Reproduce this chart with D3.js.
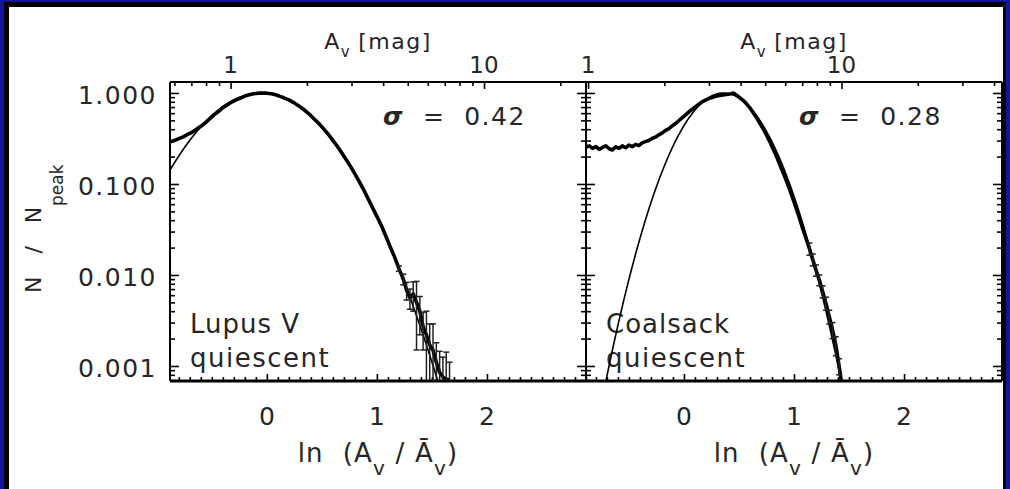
<!DOCTYPE html>
<html>
<head>
<meta charset="utf-8">
<script src="https://cdn.jsdelivr.net/npm/d3@7"></script>
<style>
  html, body { margin: 0; padding: 0; background: #fff; }
  svg { display: block; }
  text { font-family: "DejaVu Sans", sans-serif; fill: #262626; }
</style>
</head>
<body>
<svg id="chart" width="1010" height="489"></svg>
<script>
// ---- data ----
const cloudNames = ["Lupus V", "Coalsack"];
const cloudStates = ["quiescent", "quiescent"];
const fitSigma = [0.42, 0.28];          // width of the lognormal fit (stated in each panel)
const fitCenter = [-0.05, 0.36];        // peak position of the fit, ln(Av/<Av>)
const meanAv = [1.39, 2.39];            // <Av> in mag, ties the top axis to the bottom one

const lupusX = [-0.88,-0.84,-0.80,-0.76,-0.72,-0.68,-0.64,-0.60,-0.56,-0.52,-0.48,-0.44,-0.40,-0.36,-0.32,-0.28,-0.24,-0.20,-0.16,-0.12,-0.08,-0.04,0.00,0.04,0.08,0.12,0.16,0.20,0.24,0.28,0.32,0.36,0.40,0.44,0.48,0.52,0.56,0.60,0.64,0.68,0.72,0.76,0.80,0.84,0.88,0.92,0.96,1.00,1.04,1.08,1.12,1.16,1.20,1.24,1.27,1.30,1.33,1.36,1.39,1.42,1.45,1.48,1.51,1.54,1.57,1.60,1.63,1.66];
const lupusY = [0.290,0.300,0.315,0.330,0.350,0.370,0.400,0.430,0.470,0.520,0.575,0.625,0.690,0.740,0.795,0.840,0.880,0.925,0.955,0.980,0.995,1.000,0.995,0.982,0.955,0.918,0.880,0.838,0.790,0.735,0.680,0.622,0.563,0.505,0.452,0.398,0.350,0.302,0.260,0.220,0.186,0.156,0.129,0.106,0.086,0.069,0.055,0.044,0.035,0.027,0.0205,0.0158,0.0118,0.0090,0.0068,0.0056,0.0062,0.0050,0.0040,0.0027,0.0022,0.0017,0.0015,0.0011,0.00085,0.00075,0.00072,0.00070];
const lupusErr = [0,0,0,0,0,0,0,0,0,0,0,0,0,0,0,0,0,0,0,0,0,0,0,0,0,0,0,0,0,0,0,0,0,0,0,0,0,0,0,0,0,0,0,0,0,0,0,0,0,0,0,0,0.0008,0.0012,0.0015,0.0014,0.0022,0.0035,0.0018,0.0012,0.0018,0.0012,0.0014,0.0007,0.0006,0.0005,0.0007,0.0004];

const coalsackX = [-0.89,-0.86,-0.83,-0.80,-0.77,-0.74,-0.71,-0.68,-0.65,-0.62,-0.59,-0.56,-0.53,-0.50,-0.47,-0.44,-0.41,-0.38,-0.35,-0.32,-0.29,-0.26,-0.23,-0.20,-0.17,-0.14,-0.11,-0.08,-0.05,-0.02,0.01,0.04,0.07,0.10,0.13,0.16,0.19,0.22,0.25,0.28,0.31,0.34,0.37,0.40,0.43,0.45,0.48,0.51,0.54,0.57,0.60,0.63,0.66,0.69,0.72,0.75,0.78,0.81,0.84,0.87,0.90,0.93,0.96,0.99,1.02,1.05,1.08,1.11,1.14,1.17,1.20,1.23,1.26,1.29,1.32,1.35,1.38,1.41,1.43];
const coalsackY = [0.255,0.262,0.246,0.258,0.240,0.252,0.263,0.244,0.236,0.256,0.247,0.262,0.250,0.268,0.257,0.272,0.264,0.283,0.292,0.300,0.316,0.327,0.345,0.362,0.386,0.402,0.432,0.458,0.492,0.528,0.568,0.612,0.656,0.700,0.745,0.790,0.828,0.860,0.888,0.912,0.930,0.944,0.958,0.968,0.982,1.000,0.940,0.880,0.825,0.755,0.685,0.605,0.535,0.465,0.405,0.345,0.292,0.243,0.203,0.164,0.134,0.109,0.087,0.069,0.054,0.042,0.032,0.025,0.0195,0.0148,0.0113,0.0088,0.0066,0.0049,0.0035,0.0025,0.0017,0.0010,0.00068];
const coalsackErr = [0,0,0,0,0,0,0,0,0,0,0,0,0,0,0,0,0,0,0,0,0,0,0,0,0,0,0,0,0,0,0,0,0,0,0,0,0,0,0,0,0,0,0,0,0,0,0,0,0,0,0,0,0,0,0,0,0,0,0,0,0,0,0,0,0,0,0,0,0.0030,0.0022,0.0016,0.0012,0.0010,0.0008,0.0006,0.0005,0.0004,0.0002,0];

const yMajor = [1, 0.1, 0.01, 0.001];
const yTickLabels = ["1.000", "0.100", "0.010", "0.001"];
const xMajor = [0, 1, 2];
const topMajor = [1, 10];

// ---- layout ----
const W = 1010, H = 489;
const boxTop = 82, boxBottom = 381;
const panels = [
  { left: 170, right: 586, domain: [-0.88, 2.90], x: lupusX, y: lupusY, err: lupusErr },
  { left: 586, right: 1002, domain: [-0.89, 2.89], x: coalsackX, y: coalsackY, err: coalsackErr }
];
const yDomain = [0.000684, 1.32];

const svg = d3.select("#chart");

// frame
svg.append("rect").attr("width", W).attr("height", H).attr("fill", "#16169c");
svg.append("rect").attr("x", 4).attr("y", 2).attr("width", 1002).attr("height", H).attr("fill", "#000");
svg.append("rect").attr("x", 9).attr("y", 7).attr("width", 994).attr("height", H).attr("fill", "#fff");

const y = d3.scaleLog().domain(yDomain).range([boxBottom, boxTop]);

// minor tick helpers for log axes
function logMinors(lo, hi) {
  const out = [];
  for (let e = Math.floor(Math.log10(lo)); e <= Math.ceil(Math.log10(hi)); e++) {
    for (let m = 2; m <= 9; m++) {
      const v = m * Math.pow(10, e);
      if (v >= lo && v <= hi) out.push(v);
    }
  }
  return out;
}
const yMinor = logMinors(yDomain[0], yDomain[1]);

function tickAxis(g, axis) {
  g.call(axis);
  g.select(".domain").remove();
  g.selectAll("line").attr("stroke", "#000").attr("stroke-width", 1.6);
}

panels.forEach((p, i) => {
  const x = d3.scaleLinear().domain(p.domain).range([p.left, p.right]);
  const top = d3.scaleLog()
    .domain([meanAv[i] * Math.exp(p.domain[0]), meanAv[i] * Math.exp(p.domain[1])])
    .range([p.left, p.right]);
  const g = svg.append("g");

  const clipId = "clip" + i;
  svg.append("clipPath").attr("id", clipId).append("rect")
    .attr("x", p.left).attr("y", boxTop).attr("width", p.right - p.left).attr("height", boxBottom - boxTop);

  // ticks (all pointing into the box)
  tickAxis(g.append("g").attr("transform", `translate(${p.left},0)`),
    d3.axisLeft(y).tickValues(yMajor).tickSize(-9).tickFormat(""));
  tickAxis(g.append("g").attr("transform", `translate(${p.left},0)`),
    d3.axisLeft(y).tickValues(yMinor).tickSize(-5).tickFormat(""));
  tickAxis(g.append("g").attr("transform", `translate(${p.right},0)`),
    d3.axisRight(y).tickValues(yMajor).tickSize(-9).tickFormat(""));
  tickAxis(g.append("g").attr("transform", `translate(${p.right},0)`),
    d3.axisRight(y).tickValues(yMinor).tickSize(-5).tickFormat(""));

  const xMinor = d3.range(Math.ceil(p.domain[0] * 10), Math.floor(p.domain[1] * 10) + 1)
    .map(k => k / 10).filter(v => Math.abs(v - Math.round(v)) > 1e-6);
  tickAxis(g.append("g").attr("transform", `translate(0,${boxBottom})`),
    d3.axisBottom(x).tickValues(xMajor).tickSize(-7).tickFormat(""));
  tickAxis(g.append("g").attr("transform", `translate(0,${boxBottom})`),
    d3.axisBottom(x).tickValues(xMinor).tickSize(-4).tickFormat(""));

  const topMinor = logMinors(top.domain()[0], top.domain()[1]);
  tickAxis(g.append("g").attr("transform", `translate(0,${boxTop})`),
    d3.axisTop(top).tickValues(topMajor).tickSize(-7).tickFormat(""));
  tickAxis(g.append("g").attr("transform", `translate(0,${boxTop})`),
    d3.axisTop(top).tickValues(topMinor).tickSize(-4).tickFormat(""));

  // box
  g.append("line").attr("x1", p.left).attr("x2", p.right).attr("y1", boxTop).attr("y2", boxTop)
    .attr("stroke", "#000").attr("stroke-width", 2);
  g.append("line").attr("x1", p.left).attr("x2", p.right).attr("y1", boxBottom).attr("y2", boxBottom)
    .attr("stroke", "#000").attr("stroke-width", 3);
  g.append("line").attr("x1", p.left).attr("x2", p.left).attr("y1", boxTop).attr("y2", boxBottom)
    .attr("stroke", "#000").attr("stroke-width", 2);
  g.append("line").attr("x1", p.right).attr("x2", p.right).attr("y1", boxTop).attr("y2", boxBottom)
    .attr("stroke", "#000").attr("stroke-width", 2);

  // tick labels
  g.selectAll("text.xt").data(xMajor).join("text")
    .attr("x", d => x(d)).attr("y", 425).attr("text-anchor", "middle")
    .attr("font-size", 25).text(d => d);
  g.selectAll("text.tt").data(topMajor).join("text")
    .attr("x", d => top(d)).attr("y", 73).attr("text-anchor", "middle")
    .attr("font-size", 23).text(d => d);

  // top axis title
  const cx = (p.left + p.right) / 2;
  const tt = g.append("text").attr("x", cx).attr("y", 49).attr("text-anchor", "middle")
    .attr("font-size", 22).attr("letter-spacing", 1.5);
  tt.append("tspan").text("A");
  tt.append("tspan").attr("font-size", 15).attr("dy", 8).text("v");
  tt.append("tspan").attr("dy", -8).attr("dx", 7).text("[mag]");

  // bottom axis title
  const bt = g.append("text").attr("x", cx).attr("y", 462).attr("text-anchor", "middle")
    .attr("font-size", 26).attr("letter-spacing", 1.2).attr("xml:space", "preserve");
  bt.append("tspan").text("ln  (A");
  bt.append("tspan").attr("font-size", 20).attr("dy", 13).text("v");
  bt.append("tspan").attr("dy", -13).text(" / Ā");
  bt.append("tspan").attr("font-size", 20).attr("dy", 13).text("v");
  bt.append("tspan").attr("dy", -13).text(")");

  // lognormal fit
  const fitXs = d3.range(p.domain[0], p.domain[1] + 0.005, 0.005);
  const s2 = 2 * fitSigma[i] * fitSigma[i];
  const fitLine = d3.line()
    .x(d => x(d))
    .y(d => y(Math.max(1e-6, Math.exp(-Math.pow(d - fitCenter[i], 2) / s2))));
  const data = svg.append("g").attr("clip-path", `url(#${clipId})`);
  data.append("path").attr("d", fitLine(fitXs))
    .attr("fill", "none").attr("stroke", "#000").attr("stroke-width", 1.6);

  // observed distribution
  const pts = p.x.map((xv, k) => ({ x: xv, y: p.y[k], e: p.err[k] }));
  const obsLine = d3.line().x(d => x(d.x)).y(d => y(d.y));
  data.append("path").attr("d", obsLine(pts))
    .attr("fill", "none").attr("stroke", "#000").attr("stroke-width", 3.6)
    .attr("stroke-linejoin", "round");

  // error bars
  const eb = data.selectAll("g.eb").data(pts.filter(d => d.e > 0)).join("g");
  const lo = d => y(Math.max(yDomain[0] * 0.5, d.y - d.e));
  const hi = d => y(d.y + d.e);
  eb.append("line").attr("x1", d => x(d.x)).attr("x2", d => x(d.x))
    .attr("y1", lo).attr("y2", hi).attr("stroke", "#222").attr("stroke-width", 1.5);
  eb.append("line").attr("x1", d => x(d.x) - 3).attr("x2", d => x(d.x) + 3)
    .attr("y1", hi).attr("y2", hi).attr("stroke", "#222").attr("stroke-width", 1.5);
  eb.append("line").attr("x1", d => x(d.x) - 3).attr("x2", d => x(d.x) + 3)
    .attr("y1", lo).attr("y2", lo).attr("stroke", "#222").attr("stroke-width", 1.5);

  // annotations
  const sg = g.append("text").attr("x", p.left + 213).attr("y", 125).attr("font-size", 25)
    .attr("letter-spacing", 1.5).attr("xml:space", "preserve");
  sg.append("tspan").attr("font-style", "italic").attr("font-weight", "bold").text("σ");
  sg.append("tspan").text("  =  " + fitSigma[i].toFixed(2));
  g.append("text").attr("x", p.left + 20).attr("y", 333).attr("font-size", 26)
    .attr("letter-spacing", 1).text(cloudNames[i]);
  g.append("text").attr("x", p.left + 20).attr("y", 367).attr("font-size", 26)
    .attr("letter-spacing", 1.5).text(cloudStates[i]);
});

// y tick labels (left panel only)
const yl = svg.append("g");
yl.selectAll("text").data(yMajor).join("text")
  .attr("x", 157).attr("y", d => y(d) + 11).attr("text-anchor", "end")
  .attr("font-size", 25).attr("letter-spacing", 1.5)
  .text((d, k) => yTickLabels[k]);

// y axis title
svg.append("text").attr("transform", "translate(41,293) rotate(-90)")
  .attr("font-size", 22).attr("xml:space", "preserve").attr("letter-spacing", 3)
  .text("N  /  N");
svg.append("text").attr("transform", "translate(63,206) rotate(-90)")
  .attr("font-size", 17).text("peak");
</script>
</body>
</html>
